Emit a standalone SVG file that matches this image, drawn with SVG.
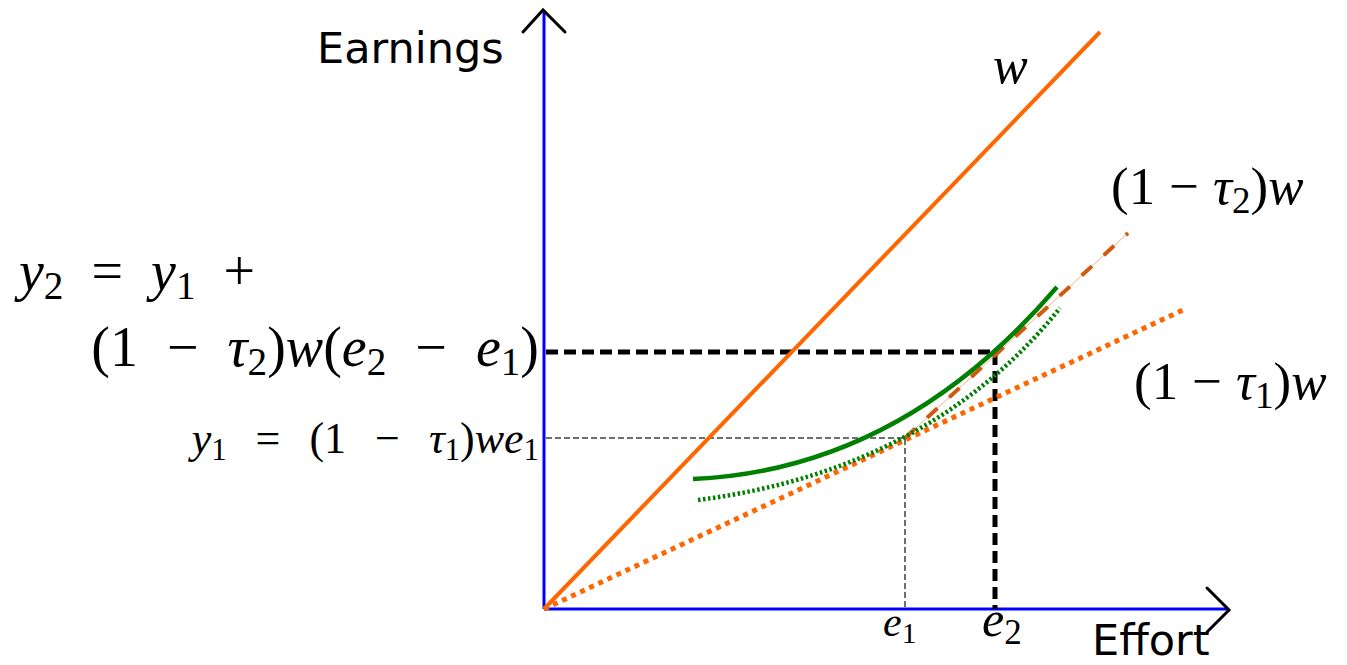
<svg xmlns="http://www.w3.org/2000/svg" width="1347" height="665" viewBox="0 0 1347 665">
<style>
.axis{stroke:#0000FF;stroke-width:3;fill:none}
.arrow{stroke:#000;stroke-width:3;fill:none;stroke-linecap:round;stroke-linejoin:miter}
.lbl{font-family:"DejaVu Sans","Verdana",sans-serif;font-size:43px;fill:#000}
.m{font-family:"Liberation Serif","DejaVu Serif",serif;fill:#000}
.i{font-style:italic}
.s{font-size:70%}
</style>
<rect width="1347" height="665" fill="#fff"/>
<g id="axes">
<line class="axis" x1="544" y1="609" x2="544" y2="11"/>
<line class="axis" x1="544" y1="609" x2="1228" y2="609"/>
<polyline class="arrow" points="523,32 543,10 565,32"/>
<polyline class="arrow" points="1207,588 1229,610 1207,632"/>
</g>
<g id="guides">
<polyline points="546,438 905,438 905,609" fill="none" stroke="#6e6e6e" stroke-width="2" stroke-dasharray="6,3"/>
<polyline points="546,352 995,352 995,609" fill="none" stroke="#000" stroke-width="5" stroke-dasharray="12,6"/>
</g>
<g id="lines">
<line id="w-line" x1="544" y1="609" x2="1100" y2="32" stroke="#FF6600" stroke-width="4"/>
<line id="tau1-line" x1="544" y1="609" x2="1185" y2="309" stroke="#FF6600" stroke-width="5" stroke-dasharray="5,5"/>
<line x1="905" y1="438" x2="1128" y2="233" stroke="#F4B183" stroke-width="1"/>
<line id="tau2-line" x1="905" y1="438" x2="1128" y2="233" stroke="#D05A10" stroke-width="4" stroke-dasharray="14,16"/>
<path id="curve-solid" d="M693,479 Q900,470 1057,287" fill="none" stroke="#008000" stroke-width="4.5"/>
<path id="curve-dotted" d="M698,500 Q930,470 1060,308" fill="none" stroke="#008000" stroke-width="4.5" stroke-dasharray="2.5,2.5"/>
</g>
<g id="labels">
<text class="lbl" x="317" y="63">Earnings</text>
<text class="lbl" x="1092" y="655">Effort</text>
<text class="m i" x="993" y="83" font-size="52">w</text>
<text class="m" x="1111" y="204" font-size="53">(1<tspan dx="14">−</tspan><tspan dx="14" class="i">τ</tspan><tspan class="s" dy="9">2</tspan><tspan dy="-9">)</tspan><tspan class="i">w</tspan></text>
<text class="m" x="1134" y="399" font-size="53">(1<tspan dx="14">−</tspan><tspan dx="14" class="i">τ</tspan><tspan class="s" dy="9">1</tspan><tspan dy="-9">)</tspan><tspan class="i">w</tspan></text>
<text class="m" x="19" y="290" font-size="56"><tspan class="i">y</tspan><tspan class="s" dy="9">2</tspan><tspan dy="-9" dx="28">=</tspan><tspan dx="28" class="i">y</tspan><tspan class="s" dy="9">1</tspan><tspan dy="-9" dx="28">+</tspan></text>
<text class="m" x="539" y="366" font-size="56" text-anchor="end">(1<tspan dx="29">−</tspan><tspan dx="29" class="i">τ</tspan><tspan class="s" dy="9">2</tspan><tspan dy="-9">)</tspan><tspan class="i">w</tspan>(<tspan class="i">e</tspan><tspan class="s" dy="9">2</tspan><tspan dy="-9" dx="29">−</tspan><tspan dx="29" class="i">e</tspan><tspan class="s" dy="9">1</tspan><tspan dy="-9">)</tspan></text>
<text class="m" x="539" y="453" font-size="44" text-anchor="end"><tspan class="i">y</tspan><tspan class="s" dy="7">1</tspan><tspan dy="-7" dx="29">=</tspan><tspan dx="29">(1</tspan><tspan dx="29">−</tspan><tspan dx="29" class="i">τ</tspan><tspan class="s" dy="7">1</tspan><tspan dy="-7">)</tspan><tspan class="i">we</tspan><tspan class="s" dy="7">1</tspan></text>
<text class="m" x="883" y="636" font-size="42"><tspan class="i">e</tspan><tspan class="s" dy="7">1</tspan></text>
<text class="m" x="982" y="636" font-size="50"><tspan class="i">e</tspan><tspan class="s" dy="8">2</tspan></text>
</g>
</svg>
